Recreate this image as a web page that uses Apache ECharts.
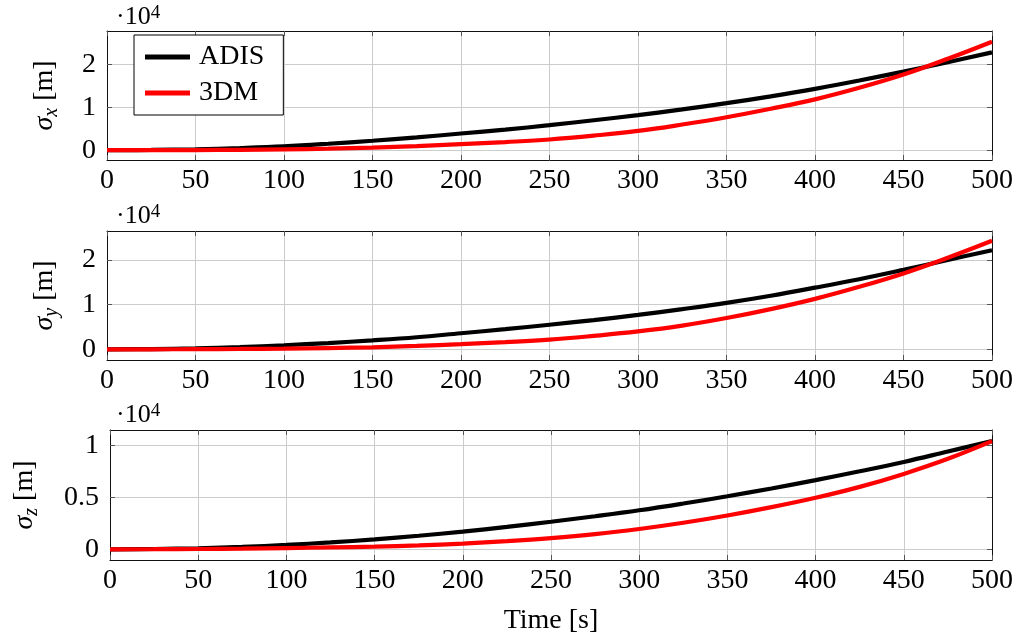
<!DOCTYPE html>
<html>
<head>
<meta charset="utf-8">
<script src="https://cdn.jsdelivr.net/npm/echarts@6/dist/echarts.min.js"></script>
<style>html,body{margin:0;padding:0;background:#fff}#c{width:1016px;height:640px}</style>
</head>
<body>
<div id="c"></div>
<script>
// time axis (s)
var times = [0,25,50,75,100,125,150,175,200,225,250,275,300,325,350,375,400,425,450,475,500];
// values in units of 1e4 m
var adisX = [0,0.005,0.02,0.05,0.09,0.15,0.22,0.30,0.39,0.48,0.585,0.70,0.82,0.955,1.10,1.26,1.435,1.63,1.84,2.06,2.29];
var dmX   = [0,0,0.003,0.008,0.02,0.035,0.06,0.095,0.14,0.19,0.25,0.34,0.45,0.60,0.77,0.97,1.19,1.46,1.77,2.14,2.54];
var adisY = [0,0.005,0.02,0.05,0.09,0.14,0.20,0.27,0.36,0.45,0.55,0.655,0.77,0.90,1.04,1.20,1.38,1.57,1.78,2.00,2.22];
var dmY   = [0,0,0.003,0.007,0.015,0.028,0.045,0.075,0.115,0.16,0.215,0.30,0.40,0.53,0.70,0.90,1.13,1.40,1.70,2.05,2.43];
var adisZ = [0,0.003,0.01,0.023,0.042,0.066,0.095,0.13,0.17,0.215,0.265,0.318,0.375,0.44,0.51,0.585,0.665,0.75,0.84,0.94,1.04];
var dmZ   = [0,0.001,0.003,0.007,0.012,0.018,0.026,0.038,0.055,0.078,0.107,0.145,0.195,0.255,0.325,0.405,0.495,0.60,0.725,0.87,1.04];
// tick values
var yTicksX = [0,1,2];
var yTicksY = [0,1,2];
var yTicksZ = [0,0.5,1];
var seriesNames = ['ADIS','3DM'];
var yTitles = ['x','y','z'];

var FONT = 'Liberation Serif';
var chart = echarts.init(document.getElementById('c'));

function pairs(v){ return times.map(function(t,i){ return [t, v[i]]; }); }

var grids = [
  {left:107, top:31, width:885, height:129},
  {left:107, top:231, width:885, height:129},
  {left:107, top:430, width:885, height:130}
];
var yRanges = [[-0.23,2.79],[-0.24,2.65],[-0.103,1.147]];
var yTicks = [yTicksX, yTicksY, yTicksZ];
var nameGaps = [45, 45, 68];
var data = [[adisX, dmX],[adisY, dmY],[adisZ, dmZ]];

var xAxes = [], yAxes = [], series = [];
var tickStyle = {show:true, inside:true, length:5, lineStyle:{color:'#555', width:1}};
var lineStyleAxis = {show:true, onZero:false, lineStyle:{color:'#111', width:1}};
var splitStyle = {show:true, lineStyle:{color:'#cccccc', width:1}};

for (var g=0; g<3; g++){
  var isLast = g===2;
  xAxes.push({
    type:'value', gridIndex:g, position:'bottom', min:0, max:500, interval:50,
    axisLine:lineStyleAxis, axisTick:tickStyle, splitLine:splitStyle,
    axisLabel:{color:'#000', fontFamily:FONT, fontSize:28, margin:7},
    name: isLast ? 'Time [s]' : '', nameLocation:'middle', nameGap:47,
    nameTextStyle:{color:'#000', fontFamily:FONT, fontSize:28}
  });
  xAxes.push({
    type:'value', gridIndex:g, position:'top', min:0, max:500, interval:50,
    axisLine:lineStyleAxis, axisTick:tickStyle, splitLine:{show:false},
    axisLabel:{show:false}
  });
  yAxes.push({
    type:'value', gridIndex:g, position:'left', min:yRanges[g][0], max:yRanges[g][1],
    axisLine:lineStyleAxis,
    axisTick:{show:true, inside:true, length:5, lineStyle:{color:'#555', width:1}, customValues:yTicks[g]},
    splitLine:splitStyle,
    axisLabel:{color:'#000', fontFamily:FONT, fontSize:28, margin:11, customValues:yTicks[g]},
    name:'{s|σ}{sub|' + yTitles[g] + '}{n| [m]}', nameLocation:'middle', nameRotate:90, nameGap:nameGaps[g],
    nameTextStyle:{
      color:'#000', fontFamily:FONT, fontSize:28, lineHeight:34,
      rich:{
        s:{fontFamily:FONT, fontStyle:'italic', fontSize:28, lineHeight:34, color:'#000'},
        sub:{fontFamily:FONT, fontStyle:'italic', fontSize:20, lineHeight:34, verticalAlign:'bottom', color:'#000'},
        n:{fontFamily:FONT, fontSize:28, lineHeight:34, color:'#000'}
      }
    }
  });
  yAxes.push({
    type:'value', gridIndex:g, position:'right', min:yRanges[g][0], max:yRanges[g][1],
    axisLine:lineStyleAxis,
    axisTick:{show:true, inside:true, length:5, lineStyle:{color:'#555', width:1}, customValues:yTicks[g]},
    splitLine:{show:false},
    axisLabel:{show:false, customValues:yTicks[g]}
  });
  var colors = ['#000000','#ff0000'];
  for (var s=0; s<2; s++){
    series.push({
      type:'line', name:seriesNames[s], xAxisIndex:2*g, yAxisIndex:2*g,
      data:pairs(data[g][s]), showSymbol:false, symbol:'none', smooth:0.4,
      lineStyle:{color:colors[s], width:4.2}, itemStyle:{color:colors[s]}, z:3+s,
      animation:false
    });
  }
}

var expTops = [4, 203, 402];
var graphics = expTops.map(function(t){
  return {
    type:'text', left:116, top:t, z:10,
    style:{
      text:'·10{sup|4}', fill:'#000', font:'26px "Liberation Serif"',
      rich:{ sup:{fontSize:19, fontFamily:FONT, verticalAlign:'top', fill:'#000'} }
    }
  };
});

chart.setOption({
  animation:false,
  backgroundColor:'#fff',
  grid:grids,
  xAxis:xAxes,
  yAxis:yAxes,
  legend:{
    data:seriesNames, orient:'vertical', left:134, top:35,
    icon:'rect', itemWidth:45, itemHeight:5, itemGap:6,
    padding:[7,19,7,11], borderColor:'#000', borderWidth:1, backgroundColor:'#fff',
    textStyle:{color:'#000', fontFamily:FONT, fontSize:28, lineHeight:30, padding:[0,0,0,4]},
    selectedMode:false, z:20
  },
  graphic:graphics,
  series:series
});
</script>
</body>
</html>
